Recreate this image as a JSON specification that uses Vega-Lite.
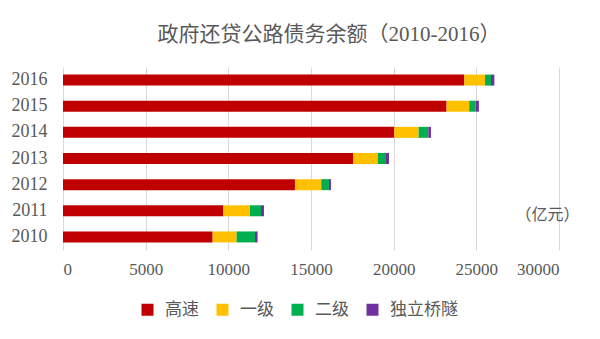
{
  "$schema": "https://vega.github.io/schema/vega-lite/v6.json",
  "width": 496,
  "height": 183,
  "autosize": "none",
  "padding": {"left": 63, "top": 67, "right": 41, "bottom": 89},
  "background": "white",
  "title": {
    "text": "政府还贷公路债务余额（2010-2016）",
    "font": "Liberation Serif, Noto Sans CJK SC",
    "fontSize": 21,
    "fontWeight": "normal",
    "color": "#595959",
    "offset": 22,
    "dx": 18
  },
  "config": {
    "view": {"stroke": null},
    "axis": {
      "labelFont": "Liberation Serif",
      "labelColor": "#595959",
      "gridColor": "#D9D9D9",
      "domain": false,
      "ticks": false
    }
  },
  "datasets": {
    "debt": [
      {"year": "2010", "type": "高速", "value": 9050},
      {"year": "2010", "type": "一级", "value": 1450},
      {"year": "2010", "type": "二级", "value": 1110},
      {"year": "2010", "type": "独立桥隧", "value": 160},
      {"year": "2011", "type": "高速", "value": 9700},
      {"year": "2011", "type": "一级", "value": 1610},
      {"year": "2011", "type": "二级", "value": 665},
      {"year": "2011", "type": "独立桥隧", "value": 180},
      {"year": "2012", "type": "高速", "value": 14030},
      {"year": "2012", "type": "一级", "value": 1590},
      {"year": "2012", "type": "二级", "value": 465},
      {"year": "2012", "type": "独立桥隧", "value": 120},
      {"year": "2013", "type": "高速", "value": 17560},
      {"year": "2013", "type": "一级", "value": 1490},
      {"year": "2013", "type": "二级", "value": 485},
      {"year": "2013", "type": "独立桥隧", "value": 180},
      {"year": "2014", "type": "高速", "value": 20040},
      {"year": "2014", "type": "一级", "value": 1470},
      {"year": "2014", "type": "二级", "value": 585},
      {"year": "2014", "type": "独立桥隧", "value": 160},
      {"year": "2015", "type": "高速", "value": 23200},
      {"year": "2015", "type": "一级", "value": 1370},
      {"year": "2015", "type": "二级", "value": 385},
      {"year": "2015", "type": "独立桥隧", "value": 200},
      {"year": "2016", "type": "高速", "value": 24270},
      {"year": "2016", "type": "一级", "value": 1255},
      {"year": "2016", "type": "二级", "value": 363},
      {"year": "2016", "type": "独立桥隧", "value": 200}
    ],
    "unit": [{"year": "2011", "value": 29300, "label": "（亿元）"}]
  },
  "layer": [
    {
      "data": {"name": "debt"},
      "transform": [
        {"calculate": "indexof(['高速','一级','二级','独立桥隧'], datum.type)", "as": "ord"}
      ],
      "mark": {"type": "bar"},
      "encoding": {
        "y": {
          "field": "year",
          "type": "nominal",
          "sort": "descending",
          "scale": {"paddingInner": 0.58, "paddingOuter": 0.29},
          "axis": {"title": null, "labelFontSize": 18, "labelPadding": 16, "grid": false}
        },
        "x": {
          "field": "value",
          "type": "quantitative",
          "stack": "zero",
          "scale": {"domain": [0, 30000], "nice": false},
          "axis": {"title": null, "values": [0, 5000, 10000, 15000, 20000, 25000, 30000], "format": "d", "labelFontSize": 17, "labelPadding": 11, "grid": true}
        },
        "color": {
          "field": "type",
          "type": "nominal",
          "sort": ["高速", "一级", "二级", "独立桥隧"],
          "scale": {"domain": ["高速", "一级", "二级", "独立桥隧"], "range": ["#C00000", "#FFC000", "#00B050", "#7030A0"]},
          "legend": {
            "title": null,
            "orient": "none",
            "legendX": 76,
            "legendY": 234,
            "direction": "horizontal",
            "symbolType": "square",
            "symbolSize": 144,
            "symbolStrokeWidth": 0,
            "labelFont": "Noto Sans CJK SC",
            "labelFontSize": 17,
            "labelColor": "#595959",
            "labelOffset": 9,
            "columnPadding": 15
          }
        },
        "order": {"field": "ord", "type": "quantitative"}
      }
    },
    {
      "data": {"name": "unit"},
      "mark": {"type": "text", "font": "Noto Sans CJK SC", "fontSize": 16, "color": "#595959", "dy": 4},
      "encoding": {
        "y": {"field": "year", "type": "nominal", "sort": "descending"},
        "x": {"field": "value", "type": "quantitative"},
        "text": {"field": "label"}
      }
    }
  ]
}
